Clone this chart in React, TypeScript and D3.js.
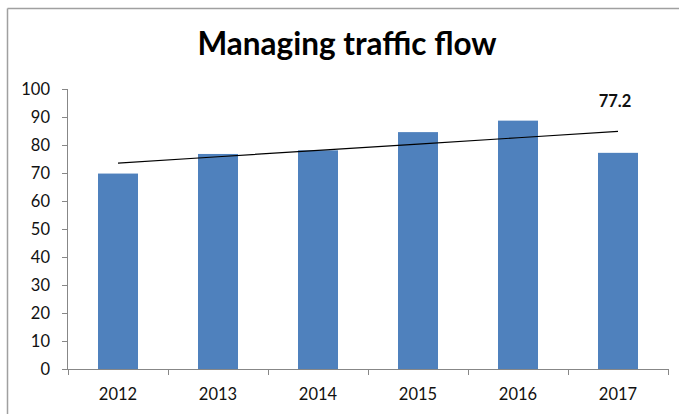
import React from "react";
import * as d3 from "d3";

const years = ["2012", "2013", "2014", "2015", "2016", "2017"];
const values = [69.8, 76.8, 78.1, 84.6, 88.7, 77.2];
const yTicks = [0, 10, 20, 30, 40, 50, 60, 70, 80, 90, 100];
const title = "Managing traffic flow";
const lastLabel = "77.2";

const W = 679;
const H = 414;
const margin = { left: 67, right: 11, top: 89, bottom: 45 };

export default function App() {
  const x = d3
    .scaleBand<string>()
    .domain(years)
    .range([margin.left + 1, W - margin.right])
    .paddingInner(0.6)
    .paddingOuter(0.3);
  const xb = d3.scaleBand<string>().domain(years).range([margin.left + 1, W - margin.right]);
  const y = d3.scaleLinear().domain([0, 100]).range([H - margin.bottom, margin.top]);

  // linear regression trend
  const xs = values.map((_, i) => i);
  const mx = d3.mean(xs)!;
  const my = d3.mean(values)!;
  const slope =
    d3.sum(xs.map((xi, i) => (xi - mx) * (values[i] - my))) /
    d3.sum(xs.map((xi) => (xi - mx) ** 2));
  const icpt = my - slope * mx;
  const trend = xs.map((xi) => [xb(years[xi])! + xb.bandwidth() / 2, y(icpt + slope * xi)] as [number, number]);
  const line = d3.line();

  const font = "Lato, 'Open Sans', sans-serif";
  const axisColor = "#878787";
  const x0 = margin.left;
  const y0 = y(0);

  return (
    <svg width={W} height={H} style={{ position: "absolute", left: 0, top: 0, background: "#fff" }}>
      <rect x={0} y={0} width={W} height={H} fill="#fff" />
      <line x1={7.5} y1={8.5} x2={W} y2={8.5} stroke="#a0a0a0" strokeWidth={1.5} />
      <line x1={7.5} y1={8.5} x2={7.5} y2={H} stroke="#a0a0a0" strokeWidth={1.5} />
      <text x={347} y={55} textAnchor="middle" fontFamily={font} fontWeight="bold" fontSize={31.5} fill="#000">
        {title}
      </text>
      {values.map((v, i) => (
        <rect key={years[i]} x={x(years[i])} y={y(v)} width={x.bandwidth()} height={y0 - y(v)} fill="#4F81BD" />
      ))}
      {/* y axis */}
      <line x1={x0 + 0.5} y1={y(100)} x2={x0 + 0.5} y2={y0} stroke={axisColor} />
      {yTicks.map((t) => (
        <g key={t}>
          <line x1={x0 - 5} x2={x0} y1={Math.round(y(t)) + 0.5} y2={Math.round(y(t)) + 0.5} stroke={axisColor} />
          <text x={x0 - 17} y={y(t)} dy="0.36em" textAnchor="end" fontFamily={font} fontSize={16.5} fill="#111">
            {t}
          </text>
        </g>
      ))}
      {/* x axis */}
      <line x1={x0} y1={Math.round(y0) + 0.5} x2={W - margin.right} y2={Math.round(y0) + 0.5} stroke={axisColor} />
      {[...years.map((yr) => xb(yr)!), W - margin.right].map((bx, i) => (
        <line key={i} x1={Math.round(bx) + 0.5} x2={Math.round(bx) + 0.5} y1={y0} y2={y0 + 6} stroke={axisColor} />
      ))}
      {years.map((yr) => (
        <text key={yr} x={xb(yr)! + xb.bandwidth() / 2} y={y0 + 31} textAnchor="middle" fontFamily={font} fontSize={16.5} fill="#111">
          {yr}
        </text>
      ))}
      <path d={line(trend)!} stroke="#000" strokeWidth={1.2} fill="none" />
      <text x={615} y={107} textAnchor="middle" fontFamily={font} fontWeight="bold" fontSize={16.5} fill="#111">
        {lastLabel}
      </text>
    </svg>
  );
}
